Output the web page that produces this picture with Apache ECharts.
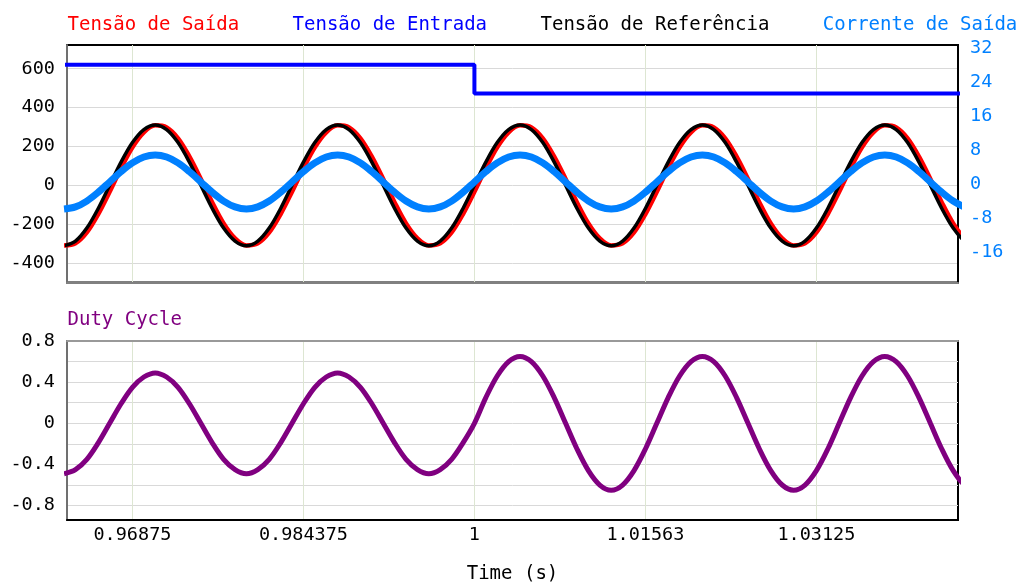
<!DOCTYPE html>
<html><head><meta charset="utf-8">
<script src="https://cdn.jsdelivr.net/npm/echarts@6/dist/echarts.min.js"></script>
<style>html,body{margin:0;padding:0;background:#fff}#c{width:1019px;height:583px}</style>
</head><body><div id="c"></div>
<script>
// ---- data ----
const seriesNames = ['Tensão de Saída', 'Tensão de Entrada', 'Tensão de Referência', 'Corrente de Saída'];
const dutyName = 'Duty Cycle';
const axisTitleX = 'Time (s)';

const times = [0.9625, 0.963542, 0.964583, 0.965625, 0.966667, 0.967708, 0.96875, 0.969792,
  0.970833, 0.971875, 0.972917, 0.973958, 0.975, 0.976042, 0.977083, 0.978125,
  0.979167, 0.980208, 0.98125, 0.982292, 0.983333, 0.984375, 0.985417, 0.986458,
  0.9875, 0.988542, 0.989583, 0.990625, 0.991667, 0.992708, 0.99375, 0.994792,
  0.995833, 0.996875, 0.997917, 0.998958, 1, 1.001042, 1.002083, 1.003125,
  1.004167, 1.005208, 1.00625, 1.007292, 1.008333, 1.009375, 1.010417, 1.011458,
  1.0125, 1.013542, 1.014583, 1.015625, 1.016667, 1.017708, 1.01875, 1.019792,
  1.020833, 1.021875, 1.022917, 1.023958, 1.025, 1.026042, 1.027083, 1.028125,
  1.029167, 1.030208, 1.03125, 1.032292, 1.033333, 1.034375, 1.035417, 1.036458,
  1.0375, 1.038542, 1.039583, 1.040625, 1.041667, 1.042708, 1.04375, 1.044792, 1.045833];

const outputVoltage = [
  -309, -298, -242, -148, -33, 88, 196, 273, 309, 298, 242, 148, 33, -88, -196, -273,
  -309, -298, -242, -148, -33, 88, 196, 273, 309, 298, 242, 148, 33, -88, -196, -273,
  -309, -298, -242, -148, -33, 88, 196, 273, 309, 298, 242, 148, 33, -88, -196, -273,
  -309, -298, -242, -148, -33, 88, 196, 273, 309, 298, 242, 148, 33, -88, -196, -273,
  -309, -298, -242, -148, -33, 88, 196, 273, 309, 298, 242, 148, 33, -88, -196, -273,
  -309];

const referenceVoltage = [
  -311, -287, -220, -119, 0, 119, 220, 287, 311, 287, 220, 119, 0, -119, -220, -287,
  -311, -287, -220, -119, 0, 119, 220, 287, 311, 287, 220, 119, 0, -119, -220, -287,
  -311, -287, -220, -119, 0, 119, 220, 287, 311, 287, 220, 119, 0, -119, -220, -287,
  -311, -287, -220, -119, 0, 119, 220, 287, 311, 287, 220, 119, 0, -119, -220, -287,
  -311, -287, -220, -119, 0, 119, 220, 287, 311, 287, 220, 119, 0, -119, -220, -287,
  -311];

const outputCurrent = [
  -5.93, -5.45, -4.07, -2.0, 0.43, 2.86, 4.93, 6.31, 6.79, 6.31, 4.93, 2.86, 0.43, -2.0, -4.07, -5.45,
  -5.93, -5.45, -4.07, -2.0, 0.43, 2.86, 4.93, 6.31, 6.79, 6.31, 4.93, 2.86, 0.43, -2.0, -4.07, -5.45,
  -5.93, -5.45, -4.07, -2.0, 0.43, 2.86, 4.93, 6.31, 6.79, 6.31, 4.93, 2.86, 0.43, -2.0, -4.07, -5.45,
  -5.93, -5.45, -4.07, -2.0, 0.43, 2.86, 4.93, 6.31, 6.79, 6.31, 4.93, 2.86, 0.43, -2.0, -4.07, -5.45,
  -5.93, -5.45, -4.07, -2.0, 0.43, 2.86, 4.93, 6.31, 6.79, 6.31, 4.93, 2.86, 0.43, -2.0, -4.07, -5.45,
  -5.93];

const dutyCycle = [
  -0.49, -0.45, -0.35, -0.19, 0, 0.19, 0.35, 0.45, 0.49, 0.45, 0.35, 0.19, 0, -0.19, -0.35, -0.45,
  -0.49, -0.45, -0.35, -0.19, 0, 0.19, 0.35, 0.45, 0.49, 0.45, 0.35, 0.19, 0, -0.19, -0.35, -0.45,
  -0.49, -0.45, -0.35, -0.19,
  0, 0.25, 0.46, 0.60, 0.65, 0.60, 0.46, 0.25, 0, -0.25, -0.46, -0.60,
  -0.65, -0.60, -0.46, -0.25, 0, 0.25, 0.46, 0.60, 0.65, 0.60, 0.46, 0.25, 0, -0.25, -0.46, -0.60,
  -0.65, -0.60, -0.46, -0.25, 0, 0.25, 0.46, 0.60, 0.65, 0.60, 0.46, 0.25, 0, -0.25, -0.46, -0.60,
  -0.65];

const inputTimes = [0.9625, 1, 1, 1.0459];
const inputVoltage = [620, 620, 472, 472];

const xTickValues = [0.96875, 0.984375, 1, 1.015625, 1.03125];
const xTickLabels = ['0.96875', '0.984375', '1', '1.01563', '1.03125'];
const voltTicks = [-400, -200, 0, 200, 400, 600];
const currentTicks = [-16, -8, 0, 8, 16, 24, 32];
const dutyLabelTicks = [-0.8, -0.4, 0, 0.4, 0.8];
const dutyGridTicks = [-0.8, -0.6, -0.4, -0.2, 0, 0.2, 0.4, 0.6, 0.8];

// ---- presentation ----
const colors = ['#ff0000', '#0000ff', '#000000', '#0080ff'];
const dutyColor = '#800080';
const FONT = '"DejaVu Sans Mono", monospace';
const X_MIN = 0.96277, X_MAX = 1.04419;
const gridH = '#d9d9d9', gridV = '#dde6d2';
const SMOOTH = 0.33;

const zip = (xs, ys) => xs.map((x, i) => [x, ys[i]]);
const xLabelFmt = v => {
  const i = xTickValues.findIndex(t => Math.abs(t - v) < 1e-7);
  return i >= 0 ? xTickLabels[i] : '';
};

const chart = echarts.init(document.getElementById('c'), null, {renderer: 'canvas'});
chart.setOption({
  animation: false,
  backgroundColor: '#ffffff',
  textStyle: {fontFamily: FONT},
  legend: [
    {
      data: seriesNames.map((n, i) => ({name: n, textStyle: {color: colors[i]}})),
      left: 62.5, top: 15, width: 956, padding: 0, icon: 'none', itemWidth: 0, itemHeight: 20, itemGap: 48.5,
      selectedMode: false, textStyle: {fontFamily: FONT, fontSize: 19}
    },
    {
      data: [{name: dutyName, textStyle: {color: dutyColor}}],
      left: 62.5, top: 310, padding: 0, icon: 'none', itemWidth: 0, itemHeight: 20,
      selectedMode: false, textStyle: {fontFamily: FONT, fontSize: 19}
    }
  ],
  grid: [
    {left: 67, right: 61, top: 45, height: 237.5, show: true, borderColor: '#000', borderWidth: 2,
     backgroundColor: '#fff', outerBoundsMode: 'none', containLabel: false},
    {left: 67, right: 61, top: 341, height: 179, show: true, borderColor: '#000', borderWidth: 2,
     backgroundColor: '#fff', outerBoundsMode: 'none', containLabel: false}
  ],
  xAxis: [
    {
      gridIndex: 0, type: 'value', min: X_MIN, max: X_MAX,
      axisLine: {show: true, onZero: false, lineStyle: {color: '#808080', width: 2}},
      axisTick: {show: false, customValues: xTickValues},
      axisLabel: {show: false, customValues: xTickValues},
      splitLine: {show: true, lineStyle: {color: gridV, width: 1}}
    },
    {
      gridIndex: 1, type: 'value', min: X_MIN, max: X_MAX,
      name: axisTitleX, nameLocation: 'middle', nameGap: 45,
      nameTextStyle: {fontFamily: FONT, fontSize: 19, color: '#000'},
      axisLine: {show: true, onZero: false, lineStyle: {color: '#000', width: 2}},
      axisTick: {show: false, customValues: xTickValues},
      axisLabel: {customValues: xTickValues, formatter: xLabelFmt, color: '#000', fontFamily: FONT, fontSize: 18.5, margin: 6},
      splitLine: {show: true, lineStyle: {color: gridV, width: 1}}
    },
    {
      gridIndex: 1, type: 'value', position: 'top', min: X_MIN, max: X_MAX,
      axisLine: {show: true, onZero: false, lineStyle: {color: '#999999', width: 2}},
      axisTick: {show: false}, axisLabel: {show: false}, splitLine: {show: false}
    }
  ],
  yAxis: [
    {
      gridIndex: 0, type: 'value', min: -500, max: 722,
      axisLine: {show: true, onZero: false, lineStyle: {color: '#707070', width: 2}},
      axisTick: {show: false, customValues: voltTicks},
      axisLabel: {customValues: voltTicks, color: '#000', fontFamily: FONT, fontSize: 18.5, margin: 12},
      splitLine: {show: true, lineStyle: {color: gridH, width: 1}}
    },
    {
      gridIndex: 0, type: 'value', position: 'right', min: -23.26, max: 32.71,
      axisLine: {show: true, onZero: false, lineStyle: {color: '#000', width: 2}},
      axisTick: {show: false, customValues: currentTicks},
      axisLabel: {customValues: currentTicks, color: colors[3], fontFamily: FONT, fontSize: 18.5, margin: 12},
      splitLine: {show: false}
    },
    {
      gridIndex: 1, type: 'value', min: -0.94, max: 0.8,
      axisLine: {show: true, onZero: false, lineStyle: {color: '#707070', width: 2}},
      axisTick: {show: false, customValues: dutyGridTicks},
      axisLabel: {customValues: dutyLabelTicks, color: '#000', fontFamily: FONT, fontSize: 18.5, margin: 12},
      splitLine: {show: true, lineStyle: {color: gridH, width: 1}}
    }
  ],
  series: [
    {name: seriesNames[0], type: 'line', xAxisIndex: 0, yAxisIndex: 0, data: zip(times, outputVoltage),
     smooth: SMOOTH, showSymbol: false, clip: true, lineStyle: {color: colors[0], width: 4.5}, itemStyle: {color: colors[0]}},
    {name: seriesNames[1], type: 'line', xAxisIndex: 0, yAxisIndex: 0, data: zip(inputTimes, inputVoltage),
     showSymbol: false, clip: true, lineStyle: {color: colors[1], width: 4}, itemStyle: {color: colors[1]}},
    {name: seriesNames[2], type: 'line', xAxisIndex: 0, yAxisIndex: 0, data: zip(times, referenceVoltage),
     smooth: SMOOTH, showSymbol: false, clip: true, lineStyle: {color: colors[2], width: 3.5}, itemStyle: {color: colors[2]}},
    {name: seriesNames[3], type: 'line', xAxisIndex: 0, yAxisIndex: 1, data: zip(times, outputCurrent),
     smooth: SMOOTH, showSymbol: false, clip: true, lineStyle: {color: colors[3], width: 7}, itemStyle: {color: colors[3]}},
    {name: dutyName, type: 'line', xAxisIndex: 1, yAxisIndex: 2, data: zip(times, dutyCycle),
     smooth: SMOOTH, showSymbol: false, clip: true, lineStyle: {color: dutyColor, width: 5}, itemStyle: {color: dutyColor}}
  ]
});
</script>
</body></html>
